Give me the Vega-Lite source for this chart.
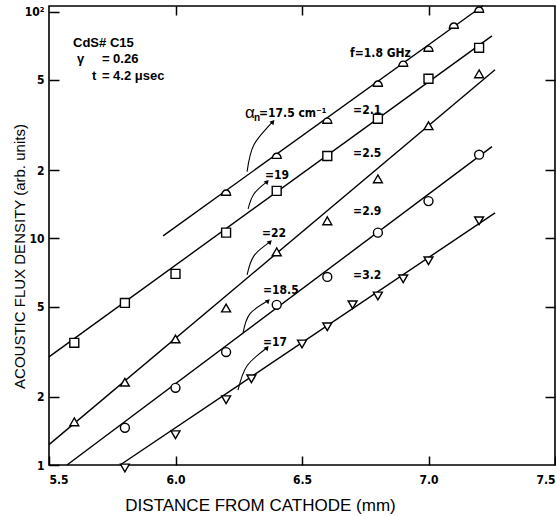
{
  "$schema": "https://vega.github.io/schema/vega-lite/v6.json",
  "width": 506,
  "height": 459,
  "autosize": {"type": "none"},
  "padding": {"left": 49, "top": 6, "right": 1, "bottom": 51},
  "background": "white",
  "config": {
    "view": {"stroke": "black", "strokeWidth": 1.6},
    "axis": {"grid": false, "domain": false}
  },
  "datasets": {
    "fits": [
      {"s": "A", "x": 5.951, "y": 10.26}, {"s": "A", "x": 7.215, "y": 106.3},
      {"s": "B", "x": 5.5, "y": 3.0}, {"s": "B", "x": 7.251, "y": 78.3},
      {"s": "C", "x": 5.5, "y": 1.23}, {"s": "C", "x": 7.263, "y": 55.5},
      {"s": "D", "x": 5.571, "y": 1.0}, {"s": "D", "x": 7.251, "y": 25.4},
      {"s": "E", "x": 5.781, "y": 1.0}, {"s": "E", "x": 7.263, "y": 12.96}
    ],
    "markers": [
      {"s": "A", "x": 6.2, "y": 15.9}, {"s": "A", "x": 6.4, "y": 23.1}, {"s": "A", "x": 6.6, "y": 33.0},
      {"s": "A", "x": 6.8, "y": 48.1}, {"s": "A", "x": 6.9, "y": 58.9}, {"s": "A", "x": 7.0, "y": 68.6},
      {"s": "A", "x": 7.1, "y": 86.7}, {"s": "A", "x": 7.2, "y": 102},
      {"s": "B", "x": 5.6, "y": 3.46}, {"s": "B", "x": 5.8, "y": 5.19}, {"s": "B", "x": 6.0, "y": 6.97},
      {"s": "B", "x": 6.2, "y": 10.6}, {"s": "B", "x": 6.4, "y": 16.2}, {"s": "B", "x": 6.6, "y": 23.1},
      {"s": "B", "x": 6.8, "y": 33.7}, {"s": "B", "x": 7.0, "y": 50.6}, {"s": "B", "x": 7.2, "y": 69.3},
      {"s": "C", "x": 5.6, "y": 1.55}, {"s": "C", "x": 5.8, "y": 2.32}, {"s": "C", "x": 6.0, "y": 3.6},
      {"s": "C", "x": 6.2, "y": 4.93}, {"s": "C", "x": 6.4, "y": 8.72}, {"s": "C", "x": 6.6, "y": 11.95},
      {"s": "C", "x": 6.8, "y": 18.3}, {"s": "C", "x": 7.0, "y": 31.4}, {"s": "C", "x": 7.2, "y": 53.2},
      {"s": "D", "x": 5.8, "y": 1.46}, {"s": "D", "x": 6.0, "y": 2.19}, {"s": "D", "x": 6.2, "y": 3.15},
      {"s": "D", "x": 6.4, "y": 5.09}, {"s": "D", "x": 6.6, "y": 6.76}, {"s": "D", "x": 6.8, "y": 10.6},
      {"s": "D", "x": 7.0, "y": 14.6}, {"s": "D", "x": 7.2, "y": 23.4},
      {"s": "E", "x": 5.8, "y": 0.97}, {"s": "E", "x": 6.0, "y": 1.36}, {"s": "E", "x": 6.2, "y": 1.94},
      {"s": "E", "x": 6.3, "y": 2.4}, {"s": "E", "x": 6.5, "y": 3.42}, {"s": "E", "x": 6.6, "y": 4.07},
      {"s": "E", "x": 6.7, "y": 5.09}, {"s": "E", "x": 6.8, "y": 5.57}, {"s": "E", "x": 6.9, "y": 6.63},
      {"s": "E", "x": 7.0, "y": 7.96}, {"s": "E", "x": 7.2, "y": 11.95}
    ],
    "arrows": [
      {"a": "17.5", "x": 6.283, "y": 19.7}, {"a": "17.5", "x": 6.31, "y": 25.9}, {"a": "17.5", "x": 6.385, "y": 32.7},
      {"a": "19", "x": 6.287, "y": 13.5}, {"a": "19", "x": 6.31, "y": 15.7}, {"a": "19", "x": 6.362, "y": 17.8},
      {"a": "22", "x": 6.283, "y": 6.9}, {"a": "22", "x": 6.31, "y": 8.37}, {"a": "22", "x": 6.374, "y": 9.65},
      {"a": "18.5", "x": 6.267, "y": 3.83}, {"a": "18.5", "x": 6.294, "y": 4.64}, {"a": "18.5", "x": 6.366, "y": 5.3},
      {"a": "17", "x": 6.247, "y": 2.14}, {"a": "17", "x": 6.283, "y": 2.74}, {"a": "17", "x": 6.362, "y": 3.29}
    ],
    "heads": [
      {"a": "17.5", "x": 6.385, "y": 32.7, "ang": 40},
      {"a": "19", "x": 6.362, "y": 17.8, "ang": 42},
      {"a": "22", "x": 6.374, "y": 9.65, "ang": 45},
      {"a": "18.5", "x": 6.366, "y": 5.3, "ang": 45},
      {"a": "17", "x": 6.362, "y": 3.29, "ang": 40}
    ],
    "labels": [
      {"t": "f=1.8 GHz", "x": 6.69, "y": 65.9},
      {"t": "=2.1", "x": 6.702, "y": 36.9},
      {"t": "=2.5", "x": 6.702, "y": 23.8},
      {"t": "=2.9", "x": 6.702, "y": 13.2},
      {"t": "=3.2", "x": 6.702, "y": 6.9},
      {"t": "=19", "x": 6.354, "y": 19.1},
      {"t": "=22", "x": 6.342, "y": 10.57},
      {"t": "=18.5", "x": 6.346, "y": 5.92},
      {"t": "=17", "x": 6.346, "y": 3.49},
      {"t": "=17.5 cm⁻¹", "x": 6.33, "y": 35.8}
    ],
    "header": [
      {"t": "CdS# C15", "x": 5.595, "y": 73.0},
      {"t": "γ", "x": 5.611, "y": 62.0},
      {"t": "= 0.26", "x": 5.709, "y": 62.0},
      {"t": "t", "x": 5.67, "y": 52.2},
      {"t": "= 4.2 μsec", "x": 5.709, "y": 52.2}
    ],
    "alpha": [{"t": "α", "x": 6.275, "y": 35.8}],
    "sub": [{"t": "n", "x": 6.31, "y": 34.0}]
  },
  "resolve": {"axis": {"x": "independent", "y": "independent"}},
  "layer": [
    {
      "data": {"name": "fits"},
      "mark": {"type": "line", "color": "black", "strokeWidth": 1.4},
      "encoding": {
        "x": {
          "field": "x", "type": "quantitative",
          "scale": {"domain": [5.5, 7.5], "nice": false, "zero": false},
          "axis": {
            "orient": "bottom", "values": [5.5, 6, 6.5, 7, 7.5], "format": ".1f",
            "tickSize": -9, "tickWidth": 1.5, "tickColor": "black",
            "labelFlush": true, "labelPadding": 18,
            "labelFont": "DejaVu Sans Condensed, Liberation Sans, sans-serif", "labelFontWeight": "bold", "labelFontSize": 12, "labelColor": "black",
            "title": "DISTANCE FROM CATHODE  (mm)",
            "titleFont": "Liberation Sans", "titleFontWeight": "normal", "titleFontSize": 17, "titleColor": "black",
            "titleX": 211, "titleY": 40, "titleBaseline": "middle", "titleAlign": "center"
          }
        },
        "y": {
          "field": "y", "type": "quantitative",
          "scale": {"type": "log", "domain": [1, 106], "nice": false},
          "axis": {
            "orient": "left", "values": [1, 2, 5, 10, 20, 50, 100], "format": "d",
            "labelExpr": "datum.value >= 100 ? '10²' : datum.value == 20 ? '2' : datum.value == 50 ? '5' : datum.label",
            "tickSize": -10, "tickWidth": 1.5, "tickColor": "black",
            "labelPadding": 15,
            "labelFont": "DejaVu Sans Condensed, Liberation Sans, sans-serif", "labelFontWeight": "bold", "labelFontSize": 12, "labelColor": "black",
            "title": "ACOUSTIC FLUX DENSITY  (arb. units)",
            "titleFont": "Liberation Sans", "titleFontWeight": "normal", "titleFontSize": 15, "titleColor": "black",
            "titleX": -30, "titleY": 250, "titleBaseline": "middle", "titleAlign": "center"
          }
        },
        "detail": {"field": "s"}
      }
    },
    {
      "data": {"name": "markers"},
      "mark": {"type": "point", "filled": true, "fill": "white", "stroke": "black", "strokeWidth": 1.4, "size": 80, "opacity": 1},
      "encoding": {
        "x": {
          "field": "x", "type": "quantitative",
          "scale": {"domain": [5.5, 7.5], "nice": false, "zero": false},
          "axis": {"orient": "top", "values": [6, 6.5, 7], "tickSize": -9, "tickWidth": 1.5, "tickColor": "black", "labels": false, "title": null}
        },
        "y": {
          "field": "y", "type": "quantitative",
          "scale": {"type": "log", "domain": [1, 106], "nice": false},
          "axis": {"orient": "right", "values": [2, 5, 10, 20, 50], "tickSize": -10, "tickWidth": 1.5, "tickColor": "black", "labels": false, "title": null}
        },
        "shape": {
          "field": "s", "type": "nominal",
          "scale": {
            "domain": ["A", "B", "C", "D", "E"],
            "range": ["M-1,0.55 C-0.75,-1 0.75,-1 1,0.55 Z", "square", "triangle-up", "circle", "triangle-down"]
          },
          "legend": null
        }
      }
    },
    {
      "data": {"name": "arrows"},
      "mark": {"type": "line", "color": "black", "strokeWidth": 1.1, "interpolate": "cardinal"},
      "encoding": {
        "x": {"field": "x", "type": "quantitative", "scale": {"domain": [5.5, 7.5], "nice": false, "zero": false}, "axis": null},
        "y": {"field": "y", "type": "quantitative", "scale": {"type": "log", "domain": [1, 106], "nice": false}, "axis": null},
        "detail": {"field": "a"}
      }
    },
    {
      "data": {"name": "heads"},
      "mark": {"type": "point", "shape": "triangle-up", "filled": true, "color": "black", "size": 28, "opacity": 1},
      "encoding": {
        "x": {"field": "x", "type": "quantitative", "scale": {"domain": [5.5, 7.5], "nice": false, "zero": false}, "axis": null},
        "y": {"field": "y", "type": "quantitative", "scale": {"type": "log", "domain": [1, 106], "nice": false}, "axis": null},
        "angle": {"field": "ang", "type": "quantitative", "scale": null}
      }
    },
    {
      "data": {"name": "labels"},
      "mark": {"type": "text", "align": "left", "baseline": "middle", "font": "DejaVu Sans Condensed, Liberation Sans, sans-serif", "fontWeight": "bold", "fontSize": 12, "color": "black"},
      "encoding": {
        "x": {"field": "x", "type": "quantitative", "scale": {"domain": [5.5, 7.5], "nice": false, "zero": false}, "axis": null},
        "y": {"field": "y", "type": "quantitative", "scale": {"type": "log", "domain": [1, 106], "nice": false}, "axis": null},
        "text": {"field": "t"}
      }
    },
    {
      "data": {"name": "header"},
      "mark": {"type": "text", "align": "left", "baseline": "middle", "font": "Liberation Sans", "fontWeight": "bold", "fontSize": 13, "color": "black"},
      "encoding": {
        "x": {"field": "x", "type": "quantitative", "scale": {"domain": [5.5, 7.5], "nice": false, "zero": false}, "axis": null},
        "y": {"field": "y", "type": "quantitative", "scale": {"type": "log", "domain": [1, 106], "nice": false}, "axis": null},
        "text": {"field": "t"}
      }
    },
    {
      "data": {"name": "alpha"},
      "mark": {"type": "text", "align": "left", "baseline": "middle", "font": "Liberation Sans", "fontSize": 17, "color": "black"},
      "encoding": {
        "x": {"field": "x", "type": "quantitative", "scale": {"domain": [5.5, 7.5], "nice": false, "zero": false}, "axis": null},
        "y": {"field": "y", "type": "quantitative", "scale": {"type": "log", "domain": [1, 106], "nice": false}, "axis": null},
        "text": {"field": "t"}
      }
    },
    {
      "data": {"name": "sub"},
      "mark": {"type": "text", "align": "left", "baseline": "middle", "font": "Liberation Sans", "fontWeight": "bold", "fontSize": 10, "color": "black"},
      "encoding": {
        "x": {"field": "x", "type": "quantitative", "scale": {"domain": [5.5, 7.5], "nice": false, "zero": false}, "axis": null},
        "y": {"field": "y", "type": "quantitative", "scale": {"type": "log", "domain": [1, 106], "nice": false}, "axis": null},
        "text": {"field": "t"}
      }
    }
  ]
}
